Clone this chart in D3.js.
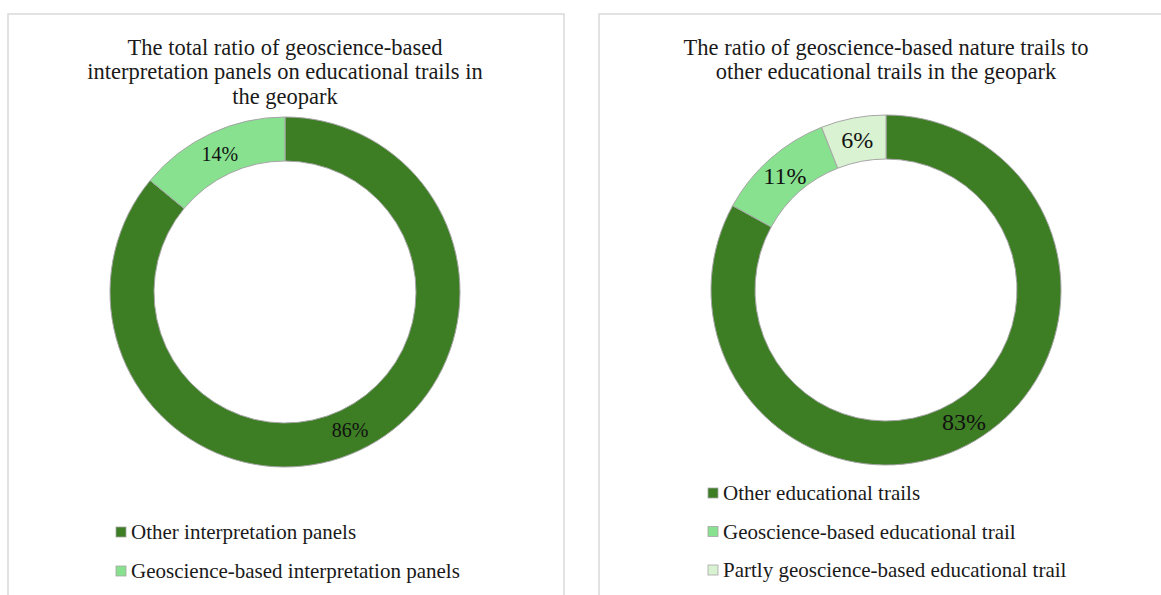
<!DOCTYPE html>
<html>
<head>
<meta charset="utf-8">
<script src="https://cdn.jsdelivr.net/npm/d3@7.9.0/dist/d3.min.js"></script>
<style>
  html, body { margin: 0; padding: 0; background: #fff; }
  svg { display: block; font-family: "Liberation Serif", "Times New Roman", serif; }
</style>
</head>
<body>
<svg id="chart" width="1161" height="595"></svg>
<script>
// ---- data ----
const panelTitles = [
  ['The total ratio of geoscience-based', 'interpretation panels on educational trails in', 'the geopark'],
  ['The ratio of geoscience-based nature trails to', 'other educational trails in the geopark']
];
const panelsCategories = [
  ['Other interpretation panels', 'Geoscience-based interpretation panels'],
  ['Other educational trails', 'Geoscience-based educational trail', 'Partly geoscience-based educational trail']
];
const panelsValues = [
  [86, 14],
  [83, 11, 6]
];
const sliceColors = ['#3d7d24', '#87e18f', '#d9f2d1'];

// ---- layout ----
const svg = d3.select('#chart');
const panels = [
  { x: 8, y: 14, w: 556, cx: 285, cy: 292, titleY: 47, legendX: 116, legendY: 532, legendStep: 39, labelSize: 20 },
  { x: 599, y: 14, w: 600, cx: 886, cy: 290, titleY: 47, legendX: 708, legendY: 493, legendStep: 38.5, labelSize: 24 }
];
const outerR = 175, innerR = 131;

const pie = d3.pie().sort(null).value(d => d);
const arc = d3.arc().innerRadius(innerR).outerRadius(outerR);

panels.forEach((p, i) => {
  // panel frame
  svg.append('rect')
    .attr('x', p.x).attr('y', p.y)
    .attr('width', p.w).attr('height', 700)
    .attr('fill', 'none')
    .attr('stroke', '#d9d9d9')
    .attr('stroke-width', 1.5);

  // title
  const title = svg.append('text')
    .attr('x', p.cx)
    .attr('y', p.titleY)
    .attr('text-anchor', 'middle')
    .attr('font-size', 22.5)
    .attr('fill', '#1a1a1a');
  panelTitles[i].forEach((line, j) => {
    title.append('tspan')
      .attr('x', p.cx)
      .attr('dy', j === 0 ? '0.35em' : 24.5)
      .text(line);
  });

  const values = panelsValues[i];
  const total = d3.sum(values);
  const g = svg.append('g').attr('transform', `translate(${p.cx},${p.cy})`);
  const arcs = pie(values);

  g.selectAll('path')
    .data(arcs)
    .join('path')
    .attr('d', arc)
    .attr('fill', (d, k) => sliceColors[k])
    .attr('stroke', '#a6a6a6')
    .attr('stroke-width', 1);

  g.selectAll('text')
    .data(arcs)
    .join('text')
    .attr('transform', d => `translate(${arc.centroid(d)})`)
    .attr('text-anchor', 'middle')
    .attr('dy', '0.35em')
    .attr('font-size', p.labelSize)
    .attr('fill', '#111')
    .text(d => Math.round(d.value / total * 100) + '%');

  // legend
  const lg = svg.append('g');
  panelsCategories[i].forEach((name, k) => {
    const y = p.legendY + k * p.legendStep;
    lg.append('rect')
      .attr('x', p.legendX).attr('y', y - 5)
      .attr('width', 10).attr('height', 10)
      .attr('fill', sliceColors[k])
      .attr('stroke', '#a6a6a6')
      .attr('stroke-width', 0.8);
    lg.append('text')
      .attr('x', p.legendX + 15)
      .attr('y', y)
      .attr('dy', '0.35em')
      .attr('font-size', 21)
      .attr('fill', '#1a1a1a')
      .text(name);
  });
});
</script>
</body>
</html>
